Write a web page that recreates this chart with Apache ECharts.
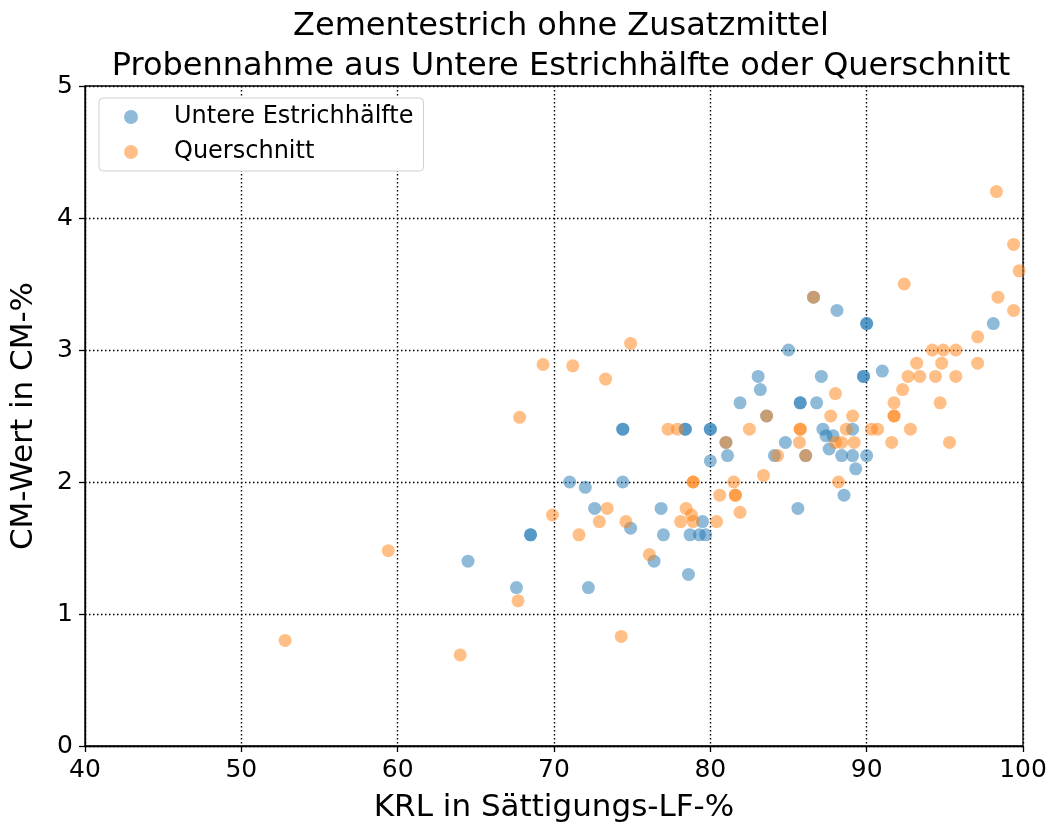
<!DOCTYPE html>
<html>
<head>
<meta charset="utf-8">
<script src="https://cdn.jsdelivr.net/npm/echarts@6/dist/echarts.min.js"></script>
<style>html,body{margin:0;padding:0;background:#fff;}#c{width:1055px;height:832px;}</style>
</head>
<body>
<div id="c"></div>
<script>
const titleLines = ["Zementestrich ohne Zusatzmittel", "Probennahme aus Untere Estrichhälfte oder Querschnitt"];
const xLabel = "KRL in Sättigungs-LF-%";
const yLabel = "CM-Wert in CM-%";
const seriesNames = ["Untere Estrichhälfte", "Querschnitt"];

const blueX = [64.5,67.6,68.5,68.5,71.0,72.0,72.2,72.6,74.4,74.4,74.4,74.9,76.4,76.85,77.0,78.6,78.4,78.4,80.0,80.0,80.0,78.7,79.3,79.7,79.5,81.1,81.0,81.9,83.06,83.2,83.6,84.8,84.1,85.0,86.6,88.1,90.0,90.0,98.1,87.1,89.8,89.8,91.0,85.75,85.75,86.8,87.2,89.1,87.4,87.85,87.6,88.4,89.1,90.0,86.1,89.3,88.55,85.6];
const blueY = [1.4,1.2,1.6,1.6,2.0,1.96,1.2,1.8,2.0,2.4,2.4,1.65,1.4,1.8,1.6,1.3,2.4,2.4,2.4,2.4,2.16,1.6,1.6,1.6,1.7,2.2,2.3,2.6,2.8,2.7,2.5,2.3,2.2,3.0,3.4,3.3,3.2,3.2,3.2,2.8,2.8,2.8,2.84,2.6,2.6,2.6,2.4,2.4,2.35,2.35,2.25,2.2,2.2,2.2,2.2,2.1,1.9,1.8];

const orangeX = [52.8,59.4,64.0,67.7,67.8,69.3,69.9,71.2,71.6,72.9,73.3,73.4,74.3,74.6,74.9,76.1,77.3,77.9,78.1,78.45,78.8,78.9,78.9,78.9,80.4,80.6,81.0,81.5,81.6,81.6,81.9,82.5,83.4,83.6,84.3,85.7,85.75,85.75,86.1,86.6,87.7,88.0,88.0,88.4,88.2,88.7,89.1,89.2,90.3,90.7,91.6,91.75,91.75,91.75,92.3,92.4,92.65,92.8,93.2,93.4,94.2,94.4,94.7,94.8,94.9,95.3,95.7,95.7,97.1,97.1,98.3,98.4,99.4,99.4,99.75];
const orangeY = [0.8,1.48,0.69,1.1,2.49,2.89,1.75,2.88,1.6,1.7,2.78,1.8,0.83,1.7,3.05,1.45,2.4,2.4,1.7,1.8,1.75,1.7,2.0,2.0,1.7,1.9,2.3,2.0,1.9,1.9,1.77,2.4,2.05,2.5,2.2,2.3,2.4,2.4,2.2,3.4,2.5,2.67,2.3,2.3,2.0,2.4,2.5,2.3,2.4,2.4,2.3,2.5,2.5,2.6,2.7,3.5,2.8,2.4,2.9,2.8,3.0,2.8,2.6,2.9,3.0,2.3,3.0,2.8,3.1,2.9,4.2,3.4,3.8,3.3,3.6];

const xTicks = [40,50,60,70,80,90,100];
const yTicks = [0,1,2,3,4,5];

const FONT = "DejaVu Sans";
const zip = (xs, ys) => xs.map((x, i) => [x, ys[i]]);

const chart = echarts.init(document.getElementById('c'), null, {renderer: 'canvas'});
const gridLine = {show: true, lineStyle: {color: '#000', width: 1.4, type: [1.5, 2.5]}};
chart.setOption({
  animation: false,
  backgroundColor: '#fff',
  title: {
    text: titleLines.join('\n'),
    left: 556, top: 2, textAlign: 'center',
    textStyle: {fontFamily: FONT, fontSize: 32, fontWeight: 'normal', color: '#000', lineHeight: 40}
  },
  legend: {
    orient: 'vertical', left: 99, top: 98,
    padding: [7, 10, 7, 25], itemGap: 11,
    itemWidth: 14, itemHeight: 14,
    backgroundColor: '#fff', borderColor: '#d0d0d0', borderWidth: 1, borderRadius: 4,
    textStyle: {fontFamily: FONT, fontSize: 24, color: '#000', padding: [0, 0, 0, 31]},
    data: [
      {name: seriesNames[0], icon: 'circle'},
      {name: seriesNames[1], icon: 'circle'}
    ]
  },
  grid: {left: 85, right: 32, top: 86, bottom: 86, show: true, borderColor: '#000', borderWidth: 1.3, backgroundColor: 'transparent'},
  xAxis: {
    type: 'value', min: xTicks[0], max: xTicks[xTicks.length-1], interval: 10,
    name: xLabel, nameLocation: 'middle', nameGap: 46,
    nameTextStyle: {fontFamily: FONT, fontSize: 31, color: '#000'},
    axisLine: {show: true, lineStyle: {color: '#000', width: 1.3}},
    axisTick: {show: true, inside: false, length: 6, lineStyle: {color: '#000', width: 1.3}},
    axisLabel: {fontFamily: FONT, fontSize: 25, color: '#000', margin: 12},
    splitLine: gridLine
  },
  yAxis: {
    type: 'value', min: yTicks[0], max: yTicks[yTicks.length-1], interval: 1,
    name: yLabel, nameLocation: 'middle', nameGap: 46, nameRotate: 90,
    nameTextStyle: {fontFamily: FONT, fontSize: 31, color: '#000'},
    axisLine: {show: true, lineStyle: {color: '#000', width: 1.3}},
    axisTick: {show: true, inside: false, length: 6, lineStyle: {color: '#000', width: 1.3}},
    axisLabel: {fontFamily: FONT, fontSize: 25, color: '#000', margin: 12},
    splitLine: gridLine
  },
  series: [
    {name: seriesNames[0], type: 'scatter', symbol: 'circle', symbolSize: 13,
     itemStyle: {color: '#1f77b4', opacity: 0.5}, data: zip(blueX, blueY)},
    {name: seriesNames[1], type: 'scatter', symbol: 'circle', symbolSize: 13,
     itemStyle: {color: '#ff7f0e', opacity: 0.5}, data: zip(orangeX, orangeY)}
  ]
});
</script>
</body>
</html>
